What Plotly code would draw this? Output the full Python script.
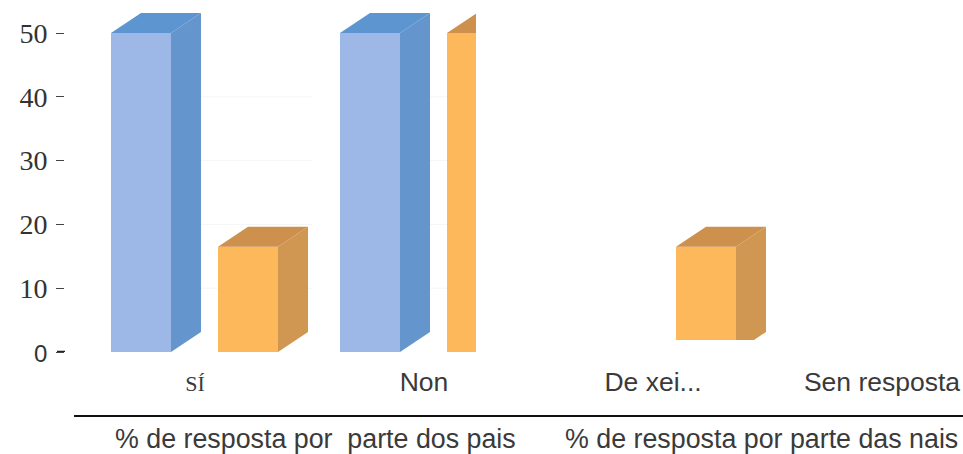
import plotly.graph_objects as go

categories = ["SÍ", "Non", "De xei...", "Sen resposta"]
pais = [50, 50, 0, 0]
nais = [16.5, 50, 16.5, 0]
y_ticks = [0, 10, 20, 30, 40, 50]
series_names = ["% de resposta por\u00a0 parte dos pais", "% de resposta por parte das nais"]

SERIF = "Liberation Serif"
SANS = "Liberation Sans"
PX_X = 229.0
PX_Y = 6.38
W, H = 963, 454
L, BOTTOM = 65, 352
BAR_W = 60 / PX_X
DX, DY = 30 / PX_X, 20 / PX_Y
OFF_A, OFF_B = -84 / PX_X, 23 / PX_X

x0 = -(195 - L) / PX_X
x1 = (W - 195) / PX_X
xs = list(range(len(categories)))

fig = go.Figure()

def box(values, off, front, side, top, name):
    for i, v in zip(xs, values):
        if v <= 0:
            continue
        l = i + off
        r = l + BAR_W
        fig.add_trace(go.Scatter(x=[r, r + DX, r + DX, r, r], y=[0, DY, v + DY, v, 0], mode="lines",
                                 fill="toself", fillcolor=side, line=dict(width=0), showlegend=False, hoverinfo="skip"))
        fig.add_trace(go.Scatter(x=[l, l + DX, r + DX, r, l], y=[v, v + DY, v + DY, v, v], mode="lines",
                                 fill="toself", fillcolor=top, line=dict(width=0), showlegend=False, hoverinfo="skip"))
    fig.add_trace(go.Bar(x=xs, y=values, offset=off, width=BAR_W, name=name,
                         marker=dict(color=front, line=dict(width=0)), showlegend=False))

box(pais, OFF_A, "#9DB8E6", "#6496CD", "#5C95D0", series_names[0])
box(nais, OFF_B, "#FDB85C", "#CF9751", "#CE904D", series_names[1])

white = dict(type="rect", fillcolor="white", line=dict(width=0), layer="above", xref="x", yref="y")
shapes = [
    # the reference cuts the Non panel at its right edge and the De xei bar above its base
    dict(white, x0=1 + (476 - 424) / PX_X, x1=1.6, y0=-2, y1=56),
    dict(white, x0=1.6, x1=2.6, y0=-2, y1=12 / PX_Y),
    # bottom rule
    dict(type="line", xref="paper", yref="paper", x0=(74 - L) / (W - L), x1=1,
         y0=-(416 - BOTTOM) / BOTTOM, y1=-(416 - BOTTOM) / BOTTOM, line=dict(color="#111111", width=2)),
    # heavier zero tick
    dict(type="line", xref="paper", yref="y", x0=-8 / (W - L), x1=0, y0=0, y1=0,
         line=dict(color="#222222", width=2.5)),
]
# faint gridlines seen in the gaps between bars
for v in y_ticks[1:5]:
    for a, b in [(200, 312), (430, 447)]:
        shapes.append(dict(type="line", xref="x", yref="y", x0=(a - 195) / PX_X, x1=(b - 195) / PX_X,
                           y0=v, y1=v, line=dict(color="#F5F5F5", width=1), layer="below"))

ticktext = [f'<span style="font-family:{SANS};font-size:24px">0</span>'] + [str(v) for v in y_ticks[1:]]
cat_text = [f'<span style="font-family:{SERIF};font-size:22px">{categories[0]}</span>'] + categories[1:]

legend_y = -(439 - BOTTOM) / BOTTOM
annotations = [
    dict(text=series_names[0], xref="paper", yref="paper", x=(315.5 - L) / (W - L),
         y=legend_y, showarrow=False, xanchor="center", yanchor="middle",
         font=dict(family=SANS, size=26.8, color="#3A3A3A")),
    dict(text=series_names[1], xref="paper", yref="paper", x=(761.5 - L) / (W - L),
         y=legend_y, showarrow=False, xanchor="center", yanchor="middle",
         font=dict(family=SANS, size=26.8, color="#3A3A3A")),
]

fig.update_layout(
    width=W, height=H, margin=dict(l=L, r=0, t=0, b=H - BOTTOM),
    paper_bgcolor="white", plot_bgcolor="white", barmode="overlay", showlegend=False,
    shapes=shapes, annotations=annotations,
    xaxis=dict(range=[x0, x1], tickmode="array", tickvals=xs, ticktext=cat_text, ticks="",
               showgrid=False, zeroline=False, showline=False, ticklabelstandoff=11,
               tickfont=dict(family=SANS, size=26.5, color="#3A3A3A")),
    yaxis=dict(range=[0, BOTTOM / PX_Y], tickmode="array", tickvals=y_ticks, ticktext=ticktext,
               ticks="outside", ticklen=8, tickwidth=1, tickcolor="#444444", ticklabelstandoff=3,
               showgrid=False, zeroline=False, showline=False,
               tickfont=dict(family=SERIF, size=28, color="#333333")),
)

fig.write_html("out.html", config=dict(displayModeBar=False),
               post_script="document.body.style.margin='0';document.documentElement.style.overflow='hidden';")
